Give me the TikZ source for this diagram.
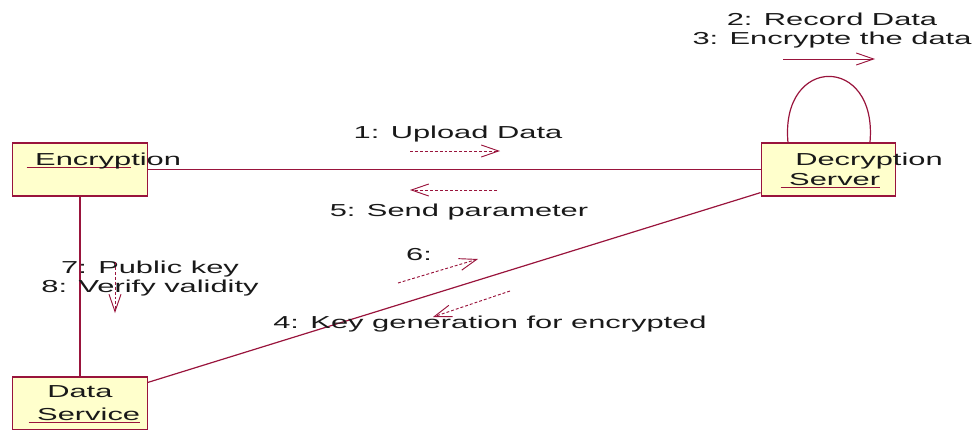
\documentclass[tikz,border=0pt]{standalone}
\usepackage{fontspec}
\setmainfont[FakeStretch=1.78]{Liberation Sans}
\usetikzlibrary{arrows.meta}

\definecolor{lineRed}{RGB}{153,20,60}
\definecolor{boxFill}{RGB}{255,255,204}
\definecolor{inkGray}{RGB}{25,25,25}

\newcommand\ulname[1]{\setbox0\hbox{#1}\rlap{\color{lineRed}\rule[-2.4pt]{\wd0}{0.7pt}}\box0}

\begin{document}
\begin{tikzpicture}[
    x=0.75pt, y=-0.75pt,
    every node/.style={inner sep=0pt, text=inkGray, font=\fontsize{13}{14.25}\selectfont},
    obj/.style={draw=lineRed, fill=boxFill, line width=0.9pt, minimum width=101pt, minimum height=39.75pt},
    objname/.style={anchor=base west},
    msg/.style={anchor=base, align=center},
    link/.style={draw=lineRed, line width=0.9pt},
    call/.style={draw=lineRed, line width=0.7pt, dash pattern=on 2.2pt off 1.5pt, -{Straight Barb[length=13pt, width=9pt]}},
    selfcall/.style={draw=lineRed, line width=0.7pt, -{Straight Barb[length=13pt, width=9pt]}}
]
    \useasboundingbox (0,0) rectangle (972,429);

    % objects
    \node[obj] (encBox) at (80,169.5) {};
    \node[obj] (decBox) at (828.5,169.5) {};
    \node[obj] (dataBox) at (80,403.5) {};

    \node[objname] (encName) at (26.4,165) {\ulname{\ Encryp}tion};
    \node[objname] (decName) at (795,165) {Decryption};
    \node[objname] (srvName) at (780.4,185) {\ulname{\ Server}};
    \node[objname] (dataName) at (47,397) {Data};
    \node[objname] (svcName) at (28.4,420) {\ulname{\ Service}};

    % links
    \draw[link] (encBox.east) -- (decBox.west);
    \draw[link] (encBox.south) -- (dataBox.north);
    \draw[link] ([yshift=-4.5pt]dataBox.north east) -- ([yshift=3pt]decBox.south west);
    \draw[link] ([xshift=-30.4pt]decBox.north) .. controls +(-8,-88) and +(8,-88) .. ([xshift=31.1pt]decBox.north);

    % messages (base = last line)
    \node[msg] (m23) at (832,44) {2: Record Data\\3: Encrypte the data};
    \node[msg] (m1) at (458,138) {1: Upload Data};
    \node[msg] (m5) at (459,216) {5: Send parameter};
    \node[msg] (m6) at (419,260) {6:};
    \node[msg] (m4) at (490,328) {4: Key generation for encrypted};
    \node[msg] (m78) at (150,292) {7: Public key\\8: Verify validity};

    \coordinate (a23s) at (783,59);  \coordinate (a23e) at (875,59);
    \coordinate (a1s) at (410,151);  \coordinate (a1e) at (500,151);
    \coordinate (a5s) at (497,190);  \coordinate (a5e) at (410,190);
    \coordinate (a6s) at (398,283);  \coordinate (a6e) at (478,259);
    \coordinate (a4s) at (510,291);  \coordinate (a4e) at (433,317);
    \coordinate (a78s) at (115,262); \coordinate (a78e) at (115,313);

    \draw[selfcall] (a23s) -- (a23e);
    \draw[call] (a1s) -- (a1e);
    \draw[call] (a5s) -- (a5e);
    \draw[call] (a6s) -- (a6e);
    \draw[call] (a4s) -- (a4e);
    \draw[call] (a78s) -- (a78e);
\end{tikzpicture}
\end{document}
